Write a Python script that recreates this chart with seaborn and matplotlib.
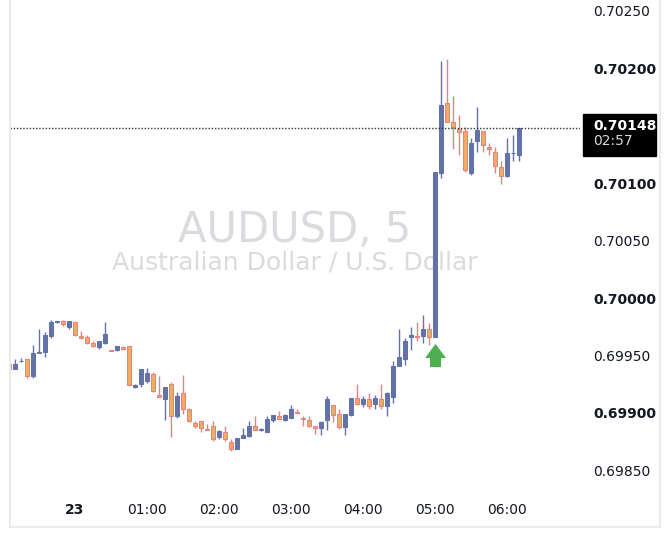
"""AUDUSD 5-minute candles, redrawn from a TradingView screenshot"""

import matplotlib.pyplot as plt
import numpy as np
import pandas as pd
import seaborn as sns
from matplotlib.lines import Line2D
from matplotlib.patches import Rectangle
from matplotlib.path import Path
from matplotlib.transforms import ScaledTranslation

# bars run from 23:05 on the 22nd to 06:10 on the 23rd
FIRST_BAR = "2024-01-22 23:05"
SIGNAL_AT = "05:00"

opens = [
    0.69943, 0.69938, 0.69945, 0.69947, 0.69932, 0.69952, 0.69953, 0.69967,
    0.69979, 0.69980, 0.69975, 0.69979, 0.69967, 0.69966, 0.69961, 0.69957,
    0.69961, 0.69955, 0.69955, 0.69957, 0.69958, 0.69923, 0.69925, 0.69928,
    0.69934, 0.69916, 0.69912, 0.69925, 0.69897, 0.69917, 0.69903, 0.69891,
    0.69893, 0.69886, 0.69889, 0.69879, 0.69883, 0.69875, 0.69869, 0.69878,
    0.69880, 0.69889, 0.69885, 0.69883, 0.69894, 0.69897, 0.69894, 0.69896,
    0.69901, 0.69896, 0.69894, 0.69889, 0.69887, 0.69894, 0.69907, 0.69899,
    0.69888, 0.69898, 0.69913, 0.69908, 0.69912, 0.69908, 0.69912, 0.69906,
    0.69914, 0.69941, 0.69947, 0.69966, 0.69967, 0.69967, 0.69973, 0.69966,
    0.70109, 0.70170, 0.70153, 0.70147, 0.70145, 0.70109, 0.70137, 0.70145,
    0.70131, 0.70127, 0.70114, 0.70106, 0.70126, 0.70124,
]
highs = [
    0.69944, 0.69947, 0.69948, 0.69947, 0.69959, 0.69973, 0.69970, 0.69981,
    0.69980, 0.69981, 0.69980, 0.69979, 0.69971, 0.69968, 0.69963, 0.69963,
    0.69979, 0.69955, 0.69958, 0.69958, 0.69958, 0.69925, 0.69938, 0.69939,
    0.69936, 0.69932, 0.69923, 0.69927, 0.69918, 0.69933, 0.69904, 0.69893,
    0.69893, 0.69890, 0.69893, 0.69885, 0.69889, 0.69877, 0.69878, 0.69887,
    0.69893, 0.69897, 0.69887, 0.69897, 0.69898, 0.69902, 0.69899, 0.69907,
    0.69903, 0.69897, 0.69897, 0.69889, 0.69893, 0.69915, 0.69907, 0.69903,
    0.69899, 0.69913, 0.69925, 0.69915, 0.69917, 0.69916, 0.69925, 0.69918,
    0.69945, 0.69973, 0.69965, 0.69975, 0.69979, 0.69985, 0.69978, 0.70110,
    0.70206, 0.70208, 0.70176, 0.70159, 0.70149, 0.70139, 0.70166, 0.70145,
    0.70135, 0.70131, 0.70119, 0.70139, 0.70142, 0.70148,
]
lows = [
    0.69938, 0.69938, 0.69944, 0.69930, 0.69930, 0.69952, 0.69949, 0.69965,
    0.69978, 0.69976, 0.69973, 0.69967, 0.69964, 0.69960, 0.69957, 0.69956,
    0.69960, 0.69954, 0.69954, 0.69955, 0.69924, 0.69922, 0.69923, 0.69926,
    0.69918, 0.69914, 0.69894, 0.69879, 0.69896, 0.69899, 0.69892, 0.69887,
    0.69883, 0.69885, 0.69876, 0.69877, 0.69876, 0.69867, 0.69869, 0.69878,
    0.69879, 0.69885, 0.69884, 0.69883, 0.69892, 0.69895, 0.69893, 0.69896,
    0.69900, 0.69889, 0.69888, 0.69882, 0.69881, 0.69885, 0.69892, 0.69886,
    0.69881, 0.69897, 0.69907, 0.69905, 0.69903, 0.69903, 0.69903, 0.69897,
    0.69909, 0.69941, 0.69942, 0.69955, 0.69963, 0.69961, 0.69959, 0.69966,
    0.70104, 0.70153, 0.70130, 0.70124, 0.70110, 0.70107, 0.70127, 0.70127,
    0.70124, 0.70109, 0.70099, 0.70105, 0.70119, 0.70119,
]
closes = [
    0.69938, 0.69943, 0.69945, 0.69932, 0.69952, 0.69953, 0.69968, 0.69979,
    0.69980, 0.69977, 0.69980, 0.69968, 0.69965, 0.69961, 0.69958, 0.69963,
    0.69969, 0.69954, 0.69958, 0.69956, 0.69924, 0.69924, 0.69938, 0.69935,
    0.69919, 0.69914, 0.69923, 0.69897, 0.69915, 0.69903, 0.69893, 0.69889,
    0.69887, 0.69885, 0.69877, 0.69884, 0.69877, 0.69869, 0.69878, 0.69881,
    0.69889, 0.69885, 0.69886, 0.69895, 0.69898, 0.69895, 0.69898, 0.69903,
    0.69900, 0.69895, 0.69889, 0.69887, 0.69892, 0.69912, 0.69898, 0.69888,
    0.69899, 0.69913, 0.69908, 0.69912, 0.69906, 0.69913, 0.69906, 0.69917,
    0.69941, 0.69949, 0.69963, 0.69968, 0.69966, 0.69973, 0.69966, 0.70110,
    0.70168, 0.70153, 0.70149, 0.70144, 0.70111, 0.70135, 0.70146, 0.70133,
    0.70130, 0.70115, 0.70106, 0.70126, 0.70126, 0.70148,
]
y_ticks = [0.69850, 0.69900, 0.69950, 0.70000, 0.70050, 0.70100, 0.70200, 0.70250]
tick_hours = [0, 1, 2, 3, 4, 5, 6]
countdown = "02:57"
symbol = "AUDUSD, 5"
description = "Australian Dollar / U.S. Dollar"

BLUE = "#6473a7"
ORANGE = "#f8aa62"
PINK = "#f27c83"
GREEN = "#4caf50"
INK = "#131722"
WATERMARK = "#dadbdf"
BORDER = "#ebebeb"

# screenshot geometry, in pixels
W, H = 670, 544
PANE_L, PANE_R, PANE_B = 10, 580, 495
BAR_PX, MIDNIGHT_PX = 6, 75
PRICE_PER_PX, ZERO_LEVEL, ZERO_PX = 0.0000087, 0.70000, 298


def main():
    sns.set_theme(style="white", rc={"axes.facecolor": "white"})
    plt.rcParams["font.family"] = ["DejaVu Sans"]

    o, h, l, c = (np.array(v) for v in (opens, highs, lows, closes))
    times = pd.date_range(FIRST_BAR, periods=len(o), freq="5min")
    day = times.normalize().max()
    x = np.asarray((times - day) / pd.Timedelta("5min"))
    up = c >= o

    fig = plt.figure(figsize=(W / 100, H / 100), dpi=100)
    ax = fig.add_axes([PANE_L / W, (H - PANE_B) / H, (PANE_R - PANE_L) / W, PANE_B / H])

    ax.text(0.5, (PANE_B - 242) / PANE_B, symbol, transform=ax.transAxes,
            ha="center", va="baseline", fontsize=30, color=WATERMARK, zorder=0)
    ax.text(0.5, (PANE_B - 270) / PANE_B, description, transform=ax.transAxes,
            ha="center", va="baseline", fontsize=18, color=WATERMARK, zorder=0)

    ax.vlines(x, l, h, colors=np.where(up, BLUE, PINK), lw=1.0, zorder=2)
    ax.bar(x, np.abs(c - o), bottom=np.minimum(o, c), width=0.75,
           color=np.where(up, BLUE, ORANGE), edgecolor=np.where(up, BLUE, PINK),
           linewidth=0.75, zorder=3)

    ax.set_xlim((PANE_L - MIDNIGHT_PX) / BAR_PX, (PANE_R - MIDNIGHT_PX) / BAR_PX)
    ax.set_ylim(ZERO_LEVEL - (PANE_B - ZERO_PX) * PRICE_PER_PX,
                ZERO_LEVEL + ZERO_PX * PRICE_PER_PX)

    # last price, dotted
    ax.axhline(c[-1], color="#333333", lw=1, ls=(0, (1, 1.3)), zorder=4)

    # up-arrow under the signal bar
    sig = times.get_loc(day + pd.Timedelta(SIGNAL_AT + ":00"))
    arrow = Path([(0, 1), (0.91, -0.22), (0.48, -0.22), (0.48, -1),
                  (-0.48, -1), (-0.48, -0.22), (-0.91, -0.22), (0, 1)], closed=True)
    shift = ax.transData + ScaledTranslation(0, -17.5 / 100, fig.dpi_scale_trans)
    ax.plot([x[sig]], [l[sig]], marker=arrow, ms=16.6, color=GREEN, mew=0,
            ls="none", transform=shift, zorder=5, clip_on=False)

    # axes, TradingView style
    for s in ax.spines.values():
        s.set_visible(False)
    ax.grid(False)
    ax.yaxis.tick_right()
    ax.set_yticks(y_ticks, labels=[f"{v:.5f}" for v in y_ticks])
    for t, v in zip(ax.get_yticklabels(), y_ticks):
        if abs(v * 1000 - round(v * 1000)) < 1e-6:
            t.set_fontweight("bold")
    tick_times = [day + pd.Timedelta(hours=hr) for hr in tick_hours]
    tick_x = [(t - day) / pd.Timedelta("5min") for t in tick_times]
    tick_lab = [t.strftime("%d") if t.hour == 0 else t.strftime("%H:%M") for t in tick_times]
    ax.set_xticks(tick_x, labels=tick_lab)
    ax.get_xticklabels()[0].set_fontweight("bold")
    ax.tick_params(axis="y", length=0, pad=9.4, labelsize=10, labelcolor=INK)
    ax.tick_params(axis="x", length=0, pad=6, labelsize=10, labelcolor=INK)

    # price tag on the scale
    _, yline = ax.transData.transform((0, c[-1]))
    fig.add_artist(Rectangle((583 / W, (yline - 28) / H), 73 / W, 42 / H,
                             transform=fig.transFigure, color="black", zorder=6))
    fig.text(593 / W, (yline + 1.5) / H, f"{c[-1]:.5f}", color="white",
             fontweight="bold", fontsize=10, va="center", zorder=7)
    fig.text(593 / W, (yline - 13) / H, countdown, color="#d8d8d8",
             fontsize=10, va="center", zorder=7)

    # light frame round the widget
    for xs, ys in (([10, 10], [17, H]), ([10, 660], [17, 17]), ([660, 660], [17, H])):
        fig.add_artist(Line2D(np.array(xs) / W, np.array(ys) / H, color=BORDER,
                              lw=1.5, transform=fig.transFigure))

    fig.savefig("out.png", dpi=100)


if __name__ == "__main__":
    main()
